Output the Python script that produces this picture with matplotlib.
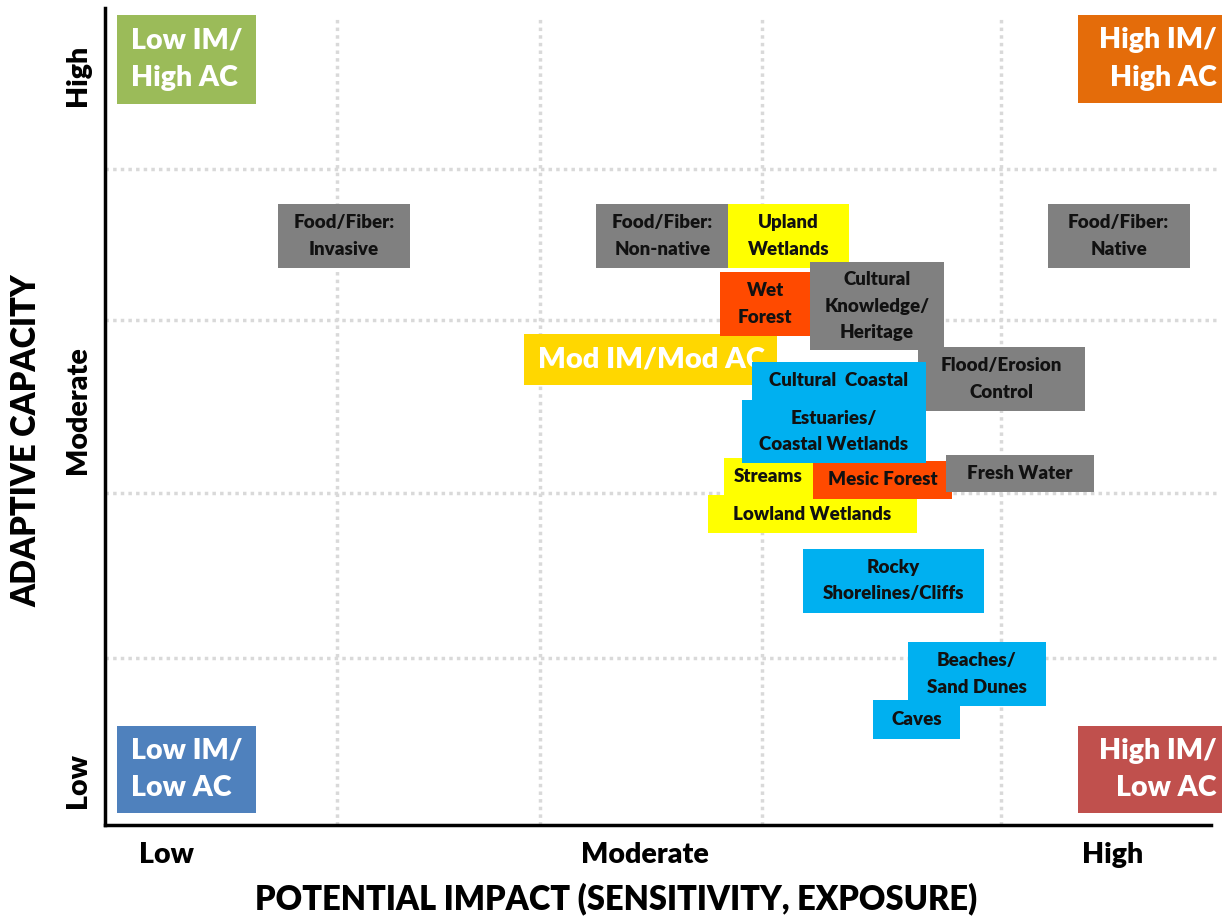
import matplotlib
matplotlib.use("Agg")
import matplotlib.pyplot as plt
from matplotlib.patches import Rectangle

plt.rcParams['font.family'] = ['Lato', 'DejaVu Sans']
W = "heavy"

# ---- data (x: potential impact score, y: adaptive capacity score; 0-10) ----
labels = ["Low IM/\nHigh AC", "High IM/\nHigh AC", "Low IM/\nLow AC", "High IM/\nLow AC",
          "Food/Fiber:\nInvasive", "Food/Fiber:\nNon-native", "Upland\nWetlands", "Food/Fiber:\nNative",
          "Mod IM/Mod AC", "Wet\nForest", "Cultural\nKnowledge/\nHeritage", "Flood/Erosion\nControl",
          "Cultural  Coastal", "Estuaries/\nCoastal Wetlands", "Streams", "Lowland Wetlands",
          "Mesic Forest", "Fresh Water", "Rocky\nShorelines/Cliffs", "Beaches/\nSand Dunes", "Caves"]
x_lo = [0.11, 8.71, 0.11, 8.71, 1.55, 4.40, 5.58, 8.44, 3.75, 5.51, 6.31, 7.28,
        5.79, 5.70, 5.54, 5.40, 6.34, 7.53, 6.25, 7.19, 6.88]
x_hi = [1.35, 10.0, 1.35, 10.0, 2.73, 5.58, 6.66, 9.71, 6.02, 6.31, 7.51, 8.77,
        7.35, 7.35, 6.34, 7.27, 7.58, 8.85, 7.87, 8.42, 7.65]
y_lo = [8.83, 8.84, 0.15, 0.15, 6.82, 6.82, 6.82, 6.82, 5.39, 5.99, 5.81, 5.07,
        5.20, 4.43, 4.04, 3.57, 3.99, 4.08, 2.60, 1.46, 1.05]
y_hi = [9.91, 9.91, 1.21, 1.21, 7.60, 7.60, 7.60, 7.60, 6.01, 6.77, 6.89, 5.85,
        5.67, 5.20, 4.49, 4.04, 4.46, 4.53, 3.38, 2.24, 1.53]
groups = ["q_lh", "q_hh", "q_ll", "q_hl", "food", "food", "fresh", "food",
          "mod", "forest", "food", "food", "coast", "coast", "fresh", "fresh",
          "forest", "food", "coast", "coast", "coast"]

grid_x = [2.08, 3.89, 5.88, 8.02]
grid_y = [2.04, 4.06, 6.18, 8.03]
x_tick_pos = [0.55, 4.83, 9.02]
x_tick_labels = ["Low", "Moderate", "High"]
y_tick_pos = [0.55, 5.08, 9.18]
y_tick_labels = ["Low", "Moderate", "High"]

colors = {"q_lh": "#9BBB59", "q_hh": "#E46C0A", "q_ll": "#4F81BD", "q_hl": "#C0504D",
          "food": "#808080", "fresh": "#FFFF00", "mod": "#FFD700", "forest": "#FF4A00",
          "coast": "#00B0F0"}

# ---- figure ----
fig = plt.figure(figsize=(12.22, 9.16), dpi=100)
ax = fig.add_axes([105 / 1222, 91 / 916, 1117 / 1222, 817 / 916])
ax.set_xlim(0, 10)
ax.set_ylim(0, 10)

for s in ["top", "right"]:
    ax.spines[s].set_visible(False)
for s in ["left", "bottom"]:
    ax.spines[s].set_linewidth(2.5)
    ax.spines[s].set_color("black")
ax.spines["bottom"].set_bounds(0, 9.9)

for gx in grid_x:
    ax.axvline(gx, ymin=0, ymax=0.99, color="#D9D9D9", lw=2.5, ls=(0, (1, 1.2)), zorder=0)
for gy in grid_y:
    ax.axhline(gy, xmin=0, xmax=0.995, color="#D9D9D9", lw=2.5, ls=(0, (1, 1.2)), zorder=0)

ax.set_xticks(x_tick_pos)
ax.set_xticklabels(x_tick_labels, fontsize=20.5, fontweight=W)
ax.set_yticks(y_tick_pos)
ax.set_yticklabels(y_tick_labels, fontsize=20.5, fontweight=W, rotation=90, va="center")
ax.tick_params(length=0, pad=12)
ax.tick_params(axis="y", pad=10)

ax.set_xlabel("POTENTIAL IMPACT (SENSITIVITY, EXPOSURE)", fontsize=23.5, fontweight=W)
ax.set_ylabel("ADAPTIVE CAPACITY", fontsize=23.5, fontweight=W)
ax.xaxis.set_label_coords(0.458, -0.07)
ax.yaxis.set_label_coords(-0.0564, 0.471)

# drawing order (z) to reproduce overlaps
order = [0, 1, 2, 3, 4, 5, 6, 7, 8, 9, 11, 10, 12, 14, 15, 16, 17, 13, 18, 19, 20]
for z, i in enumerate(order):
    g = groups[i]
    ax.add_patch(Rectangle((x_lo[i], y_lo[i]), x_hi[i] - x_lo[i], y_hi[i] - y_lo[i],
                           facecolor=colors[g], edgecolor="none", zorder=2 + z, clip_on=False))
    cy = (y_lo[i] + y_hi[i]) / 2
    if g.startswith("q_"):
        if g in ("q_lh", "q_ll"):
            tx, ha = x_lo[i] + 0.12, "left"
        else:
            tx, ha = x_hi[i] - 0.05, "right"
        ax.text(tx, cy, labels[i], ha=ha, va="center", color="white", fontsize=20.5,
                fontweight=W, linespacing=1.55, zorder=2 + z, clip_on=False,
                multialignment=ha)
    elif g == "mod":
        ax.text(x_lo[i] + 0.13, cy, labels[i], ha="left", va="center", color="white",
                fontsize=21, fontweight=W, zorder=2 + z)
    else:
        ax.text((x_lo[i] + x_hi[i]) / 2, cy, labels[i], ha="center", va="center",
                color="#111111", fontsize=13.5, fontweight=W, linespacing=1.68,
                zorder=2 + z)

fig.savefig("out.png", dpi=100)
